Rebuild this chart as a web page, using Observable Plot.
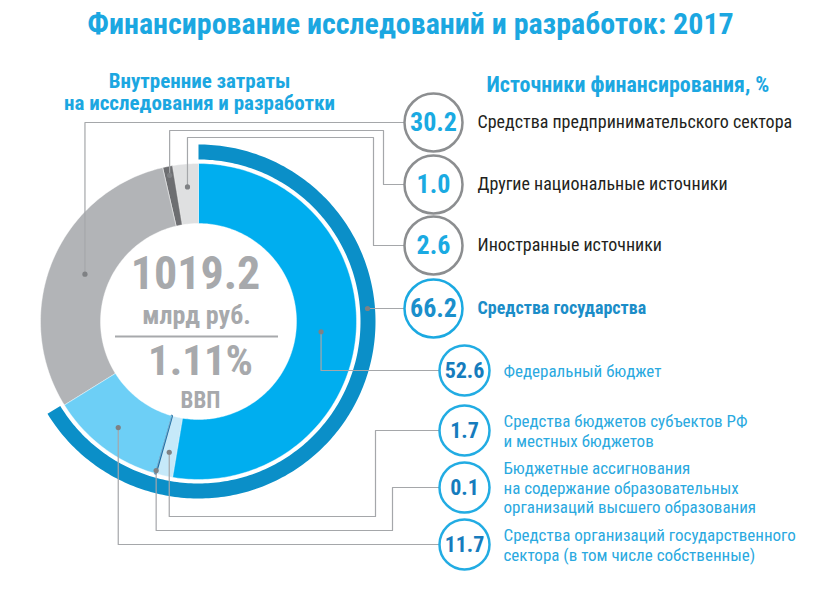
<!DOCTYPE html>
<html>
<head>
<meta charset="utf-8">
<script src="https://cdn.jsdelivr.net/npm/d3@7"></script>
<script src="https://cdn.jsdelivr.net/npm/@observablehq/plot@0.6"></script>
<style>
  body { margin: 0; background: #fff; width: 821px; height: 597px; overflow: hidden; }
  #title {
    height: 52px; margin: 0; text-align: center;
    font-family: "Liberation Sans Narrow", "Roboto Condensed", "DejaVu Sans Condensed", "Arial Narrow", sans-serif;
    font-stretch: condensed; font-weight: bold; font-size: 30px; line-height: 48px; color: #1ba7e1;
  }
  #chart svg { display: block; }
</style>
</head>
<body>
<div id="title">Финансирование исследований и разработок: 2017</div>
<div id="chart"></div>
<script>
// ---------------- DATA ----------------
const totalSpending = "1019.2";
const totalUnit = "млрд руб.";
const gdpShare = "1.11%";
const gdpLabel = "ВВП";
const leftHeading = "Внутренние затраты\nна исследования и разработки";
const rightHeading = "Источники финансирования, %";

const sourceNames = [
  "Средства предпринимательского сектора",
  "Другие национальные источники",
  "Иностранные источники",
  "Средства государства"
];
const sourceValues = [30.2, 1.0, 2.6, 66.2];

const govNames = [
  "Федеральный бюджет",
  "Средства бюджетов субъектов РФ\nи местных бюджетов",
  "Бюджетные ассигнования\nна содержание образовательных\nорганизаций высшего образования",
  "Средства организаций государственного\nсектора (в том числе собственные)"
];
const govValues = [52.6, 1.7, 0.1, 11.7];

// ---------------- LAYOUT ----------------
const W = 821, H = 545, TOP = 52;
const FONT = '"Liberation Sans Narrow", "Roboto Condensed", "DejaVu Sans Condensed", "Arial Narrow", sans-serif';
const CX = 198, CY = 321, R_OUT = 158, R_IN = 98, ARC_IN = 162, ARC_OUT = 177;
const sliceColors = ["#00aeef", "#c6e9f9", "#1d6fa5", "#6dcff6", "#b2b4b7", "#6d6e71", "#dfe0e1"];
const dotRadius = [123, 134, 155, 133, 123, 149, 135];
const srcCircleX = 433, srcRowY = [122, 184, 245, 308], srcR = 29;
const govCircleX = 464, govRowY = [370, 430, 487, 544], govR = 25;

// slices clockwise from the top: state parts, then other sources
const slices = [
  ...govValues.map((v, i) => ({value: v, group: "gov", idx: i})),
  ...sourceValues.slice(0, 3).map((v, i) => ({value: v, group: "src", idx: i}))
];
const total = d3.sum(slices, d => d.value);
let acc = 0;
slices.forEach((s, k) => {
  s.a0 = acc / total * 2 * Math.PI; acc += s.value; s.a1 = acc / total * 2 * Math.PI;
  s.color = sliceColors[k];
  const am = (s.a0 + s.a1) / 2;
  s.dot = {x: CX + dotRadius[k] * Math.sin(am), y: CY - dotRadius[k] * Math.cos(am)};
});

function ring(a0, a1, r0, r1) {
  const n = Math.max(2, Math.ceil((a1 - a0) / (Math.PI / 180)));
  const pts = [];
  for (let k = 0; k <= n; k++) { const a = a0 + (a1 - a0) * k / n; pts.push({x: CX + r1 * Math.sin(a), y: CY - r1 * Math.cos(a)}); }
  for (let k = n; k >= 0; k--) { const a = a0 + (a1 - a0) * k / n; pts.push({x: CX + r0 * Math.sin(a), y: CY - r0 * Math.cos(a)}); }
  return pts;
}

const govArcEnd = sourceValues[3] / total * 2 * Math.PI;
const arcMid = (ARC_IN + ARC_OUT) / 2;
const govArcDot = {x: CX + Math.sqrt(arcMid * arcMid - (srcRowY[3] - CY) ** 2), y: srcRowY[3]};

// connector routes
const S = i => slices[4 + i].dot, G = i => slices[i].dot;
const connectors = [
  [S(0), {x: S(0).x, y: srcRowY[0]}, {x: srcCircleX - srcR, y: srcRowY[0]}],
  [S(1), {x: S(1).x, y: 130}, {x: 383, y: 130}, {x: 383, y: srcRowY[1]}, {x: srcCircleX - srcR, y: srcRowY[1]}],
  [S(2), {x: S(2).x, y: 137}, {x: 373, y: 137}, {x: 373, y: srcRowY[2]}, {x: srcCircleX - srcR, y: srcRowY[2]}],
  [govArcDot, {x: srcCircleX - srcR, y: srcRowY[3]}],
  [G(0), {x: G(0).x, y: govRowY[0]}, {x: govCircleX - govR, y: govRowY[0]}],
  [G(1), {x: G(1).x, y: 516}, {x: 375, y: 516}, {x: 375, y: govRowY[1]}, {x: govCircleX - govR, y: govRowY[1]}],
  [G(2), {x: G(2).x, y: 530}, {x: 392, y: 530}, {x: 392, y: govRowY[2]}, {x: govCircleX - govR, y: govRowY[2]}],
  [G(3), {x: G(3).x, y: 544}, {x: govCircleX - govR, y: govRowY[3]}]
];
const connectorPts = connectors.flatMap((c, j) => c.map(p => ({...p, id: j})));
const dots = [...slices.map(s => s.dot), govArcDot];

const chart = Plot.plot({
  width: W, height: H, margin: 0,
  style: {fontFamily: FONT, background: "#fff"},
  x: {domain: [0, W], range: [0, W], axis: null},
  y: {domain: [TOP, TOP + H], range: [0, H], axis: null},
  marks: [
    // outer arc for the state sector
    Plot.line(ring(0, govArcEnd, ARC_IN, ARC_OUT), {x: "x", y: "y", fill: "#0b8fc8", stroke: "none", curve: "linear-closed"}),
    // donut slices
    ...slices.map(s => Plot.line(ring(s.a0, s.a1, R_IN, R_OUT), {
      x: "x", y: "y", fill: s.color, curve: "linear-closed",
      stroke: s.value < 0.5 ? s.color : "#ffffff", strokeWidth: s.value < 0.5 ? 2 : 0.4
    })),
    // connectors
    Plot.line(connectorPts, {x: "x", y: "y", z: "id", stroke: "#a5a7aa", strokeWidth: 1.2}),
    Plot.dot(dots, {x: "x", y: "y", r: 2.6, fill: "#7f8184", stroke: "none"}),
    // center texts
    Plot.text([totalSpending], {x: CX - 3, y: 274, text: d => d, fontSize: 46, fontWeight: "bold", fill: "#a7a9ac"}),
    Plot.text([totalUnit], {x: CX - 2, y: 315, text: d => d, fontSize: 26, fontWeight: "bold", fill: "#a7a9ac"}),
    Plot.ruleY([336], {x1: 115, x2: 278, stroke: "#a7a9ac", strokeWidth: 2}),
    Plot.text([gdpShare], {x: CX + 2, y: 361, text: d => d, fontSize: 43, fontWeight: "bold", fill: "#a7a9ac"}),
    Plot.text([gdpLabel], {x: CX + 2, y: 400, text: d => d, fontSize: 23, fontWeight: "bold", fill: "#a7a9ac"}),
    // headings
    Plot.text([leftHeading], {x: 199, y: 91, text: d => d, fontSize: 21, fontWeight: "bold", fill: "#1ba7e1", lineHeight: 1.05}),
    Plot.text([rightHeading], {x: 486, y: 84, text: d => d, fontSize: 22, fontWeight: "bold", fill: "#1ba7e1", textAnchor: "start"}),
    // source circles
    Plot.dot(sourceValues, {x: srcCircleX, y: (d, i) => srcRowY[i], r: srcR, fill: "#fff",
      stroke: (d, i) => i < 3 ? "#8c8e90" : "#1ba9e1", strokeWidth: 2.5}),
    Plot.text(sourceValues, {x: srcCircleX, y: (d, i) => srcRowY[i], text: d => d.toFixed(1), fontSize: 26, fontWeight: "bold",
      fill: (d, i) => i < 3 ? "#1aaae2" : "#1b8fcb"}),
    Plot.text(sourceNames.slice(0, 3), {x: 477, y: (d, i) => srcRowY[i], text: d => d, fontSize: 18, fill: "#231f20", textAnchor: "start"}),
    Plot.text([sourceNames[3]], {x: 477, y: srcRowY[3], text: d => d, fontSize: 18, fontWeight: "bold", fill: "#1b8dc8", textAnchor: "start"}),
    // state sub-source circles
    Plot.dot(govValues, {x: govCircleX, y: (d, i) => govRowY[i], r: govR, fill: "#fff", stroke: "#22ace3", strokeWidth: 2.5}),
    Plot.text(govValues, {x: govCircleX, y: (d, i) => govRowY[i], text: d => d.toFixed(1), fontSize: 22, fontWeight: "bold", fill: "#167cbd"}),
    Plot.text(govNames, {x: 503, y: (d, i) => govRowY[i], text: d => d, fontSize: 17, fill: "#2aa9e0", textAnchor: "start", lineHeight: 1.15})
  ]
});
document.getElementById("chart").append(chart);
</script>
</body>
</html>
